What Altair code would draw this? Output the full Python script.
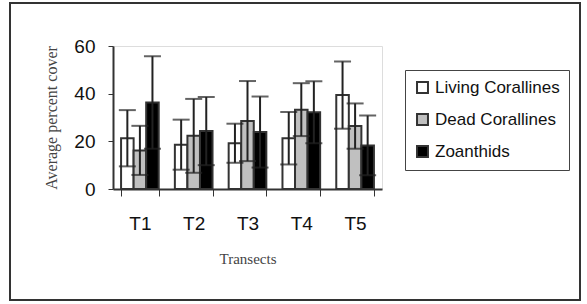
import altair as alt
import pandas as pd

transects = ["T1", "T2", "T3", "T4", "T5"]
series = ["Living Corallines", "Dead Corallines", "Zoanthids"]
living = [21.3, 18.6, 19.2, 21.3, 39.4]
living_err = [11.8, 10.5, 8.2, 11.0, 14.1]
dead = [16.2, 22.3, 28.5, 33.3, 26.4]
dead_err = [10.3, 15.5, 16.8, 11.1, 9.5]
zoanthids = [36.3, 24.3, 23.9, 32.2, 18.3]
zoanthids_err = [19.4, 14.3, 14.9, 13.0, 12.5]

rows = []
for name, means, errs in zip(series, [living, dead, zoanthids],
                             [living_err, dead_err, zoanthids_err]):
    for t, m, e in zip(transects, means, errs):
        rows.append({"Transect": t, "Group": name, "Mean": m,
                     "Low": m - e, "High": m + e})
df = pd.DataFrame(rows)

x_enc = alt.X("Transect:N", sort=transects,
              scale=alt.Scale(paddingInner=0.3, paddingOuter=0.15),
              axis=alt.Axis(title="Transects", labelAngle=0, tickBand="extent",
                            labelFont="Liberation Sans", labelFontSize=19,
                            labelColor="#111", labelPadding=18, tickSize=7,
                            tickColor="#333", domainColor="#333", domainWidth=2,
                            titleFont="Liberation Serif", titleFontSize=15,
                            titleFontWeight="normal", titleColor="#444",
                            titlePadding=18))
xoff = alt.XOffset("Group:N", sort=series, scale=alt.Scale(domain=series))

bars = alt.Chart(df).mark_bar(stroke="#333", strokeWidth=2).encode(
    x=x_enc,
    xOffset=xoff,
    y=alt.Y("Mean:Q", scale=alt.Scale(domain=[0, 60]),
            axis=alt.Axis(title="Average percent cover", values=[0, 20, 40, 60],
                          grid=False, labelFont="Liberation Sans",
                          labelFontSize=19, labelColor="#111", labelPadding=13,
                          tickSize=5, tickColor="#333", domainColor="#333",
                          domainWidth=2, titleFont="Liberation Serif",
                          titleFontSize=16, titleFontWeight="normal",
                          titleColor="#444", titlePadding=14)),
    color=alt.Color("Group:N", sort=series,
                    scale=alt.Scale(domain=series,
                                    range=["#ffffff", "#c0c0c0", "#000000"]),
                    legend=alt.Legend(title=None, orient="none", legendX=292,
                                      legendY=24, strokeColor="#444",
                                      padding=9, rowPadding=13,
                                      symbolType="square", symbolSize=120,
                                      symbolStrokeColor="#333",
                                      symbolStrokeWidth=2,
                                      labelFont="Liberation Sans",
                                      labelFontSize=17, labelColor="#111",
                                      labelOffset=4)),
)

stems = alt.Chart(df).mark_rule(color="#222", strokeWidth=2).encode(
    x=alt.X("Transect:N", sort=transects), xOffset=xoff,
    y="Low:Q", y2="High:Q")

caps_hi = alt.Chart(df).mark_tick(color="#222", thickness=2, size=17).encode(
    x=alt.X("Transect:N", sort=transects), xOffset=xoff, y="High:Q")
caps_lo = alt.Chart(df).mark_tick(color="#222", thickness=2, size=17).encode(
    x=alt.X("Transect:N", sort=transects), xOffset=xoff, y="Low:Q")

# outer frame around the whole figure
frame = alt.Chart(pd.DataFrame({"k": [0]})).mark_rect(
    fill=None, stroke="#333", strokeWidth=2).encode(
    x=alt.value(-103), x2=alt.value(467), y=alt.value(-43), y2=alt.value(254))

chart = alt.layer(frame, bars, stems, caps_hi, caps_lo).properties(
    width=269, height=143,
    autosize=alt.AutoSizeParams(type="none"),
    padding={"left": 113, "top": 46, "right": 205, "bottom": 115},
).configure_view(stroke="#999", strokeWidth=2).configure(background="white")

chart.save("out.html", embed_options={"renderer": "svg", "actions": False})
